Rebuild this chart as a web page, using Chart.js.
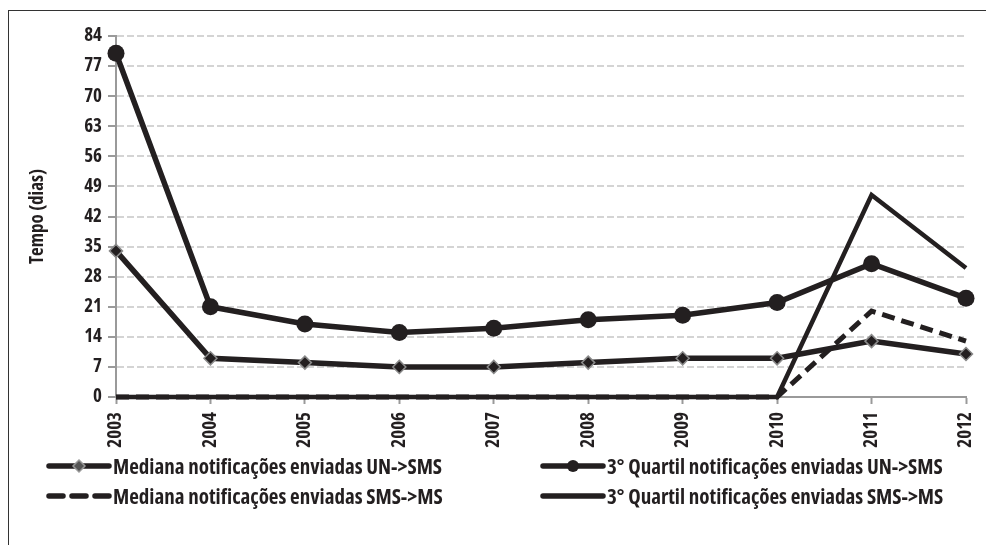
<!DOCTYPE html>
<html>
<head>
<meta charset="utf-8">
<script src="https://cdn.jsdelivr.net/npm/chart.js@4/dist/chart.umd.min.js"></script>
<style>
  body { margin: 0; background: #fff; }
  #wrap { position: relative; width: 986px; height: 545px; overflow: hidden; }
  #frame { position: absolute; left: 8px; top: 10px; width: 990px; height: 560px;
           border-top: 1.5px solid #333; border-left: 1.5px solid #333; }
  canvas { position: absolute; left: 0; top: 0; }
  .leg { position: absolute; height: 24px; display: flex; align-items: center;
         font-family: 'Open Sans', sans-serif; font-stretch: condensed;
         font-weight: bold; font-size: 21px; color: #231f20; white-space: nowrap; }
  .leg svg { margin-right: 1px; }
</style>
</head>
<body>
<div id="wrap">
  <div id="frame"></div>
  <canvas id="grafico" width="986" height="545"></canvas>
</div>
<script>
// Dados
var anos = ['2003', '2004', '2005', '2006', '2007', '2008', '2009', '2010', '2011', '2012']
var medianaUnSms = [34, 9, 8, 7, 7, 8, 9, 9, 13, 10]
var quartilUnSms = [80, 21, 17, 15, 16, 18, 19, 22, 31, 23]
var medianaSmsMs = [0, 0, 0, 0, 0, 0, 0, 0, 20, 13]
var quartilSmsMs = [0, 0, 0, 0, 0, 0, 0, 0, 47, 30]
var nomes = [
  'Mediana notificações enviadas UN->SMS',
  '3° Quartil notificações enviadas UN->SMS',
  'Mediana notificações enviadas SMS->MS',
  '3° Quartil notificações enviadas SMS->MS'
]
var eixoY = { min: 0, max: 84, passo: 7 }

var corLinha = '#231f20'
// "condensed" vai junto do peso para o canvas usar a largura estreita da Open Sans
var fonte = "'Open Sans', sans-serif"
var pesoFonte = 'condensed bold'

var ctx = document.getElementById('grafico')

new Chart(ctx, {
  type: 'line',
  data: {
    labels: anos,
    datasets: [{
      label: nomes[0],
      data: medianaUnSms,
      borderColor: corLinha,
      borderWidth: 5.5,
      pointStyle: 'rectRot',
      pointRadius: 6.5,
      pointBackgroundColor: corLinha,
      pointBorderColor: '#8a8a8a',
      pointBorderWidth: 1.5,
      clip: false
    }, {
      label: nomes[1],
      data: quartilUnSms,
      borderColor: corLinha,
      borderWidth: 5.5,
      pointStyle: 'circle',
      pointRadius: 8.5,
      pointBackgroundColor: corLinha,
      pointBorderColor: corLinha,
      pointBorderWidth: 0,
      clip: false
    }, {
      label: nomes[2],
      data: medianaSmsMs,
      borderColor: corLinha,
      borderWidth: 5,
      borderDash: [13, 7],
      pointRadius: 0,
      clip: false
    }, {
      label: nomes[3],
      data: quartilSmsMs,
      borderColor: corLinha,
      borderWidth: 4.5,
      pointRadius: 0,
      clip: false
    }]
  },
  options: {
    responsive: false,
    animation: false,
    layout: { padding: { left: 0, right: 20, top: 36, bottom: 88 } },
    plugins: {
      legend: { display: false },
      tooltip: { enabled: false }
    },
    scales: {
      x: {
        grid: { drawOnChartArea: false, drawTicks: true, tickLength: 7, tickColor: '#9a9a9a', tickWidth: 2 },
        border: { color: '#9a9a9a', width: 2 },
        ticks: {
          color: corLinha,
          font: { family: fonte, weight: pesoFonte, size: 19 },
          minRotation: 90, maxRotation: 90,
          padding: 8
        },
        // altura fixa e sem folga lateral, para 2003 e 2012 ficarem nas bordas
        afterFit: function (scale) {
          scale.height = 60
          scale.paddingLeft = 0
          scale.paddingRight = 0
        }
      },
      y: {
        min: eixoY.min,
        max: eixoY.max,
        grid: { color: '#d4d4d4', lineWidth: 2, tickLength: 8, tickColor: '#9a9a9a', tickWidth: 2 },
        border: { color: '#9a9a9a', width: 2, dash: [7, 3] },
        ticks: {
          stepSize: eixoY.passo,
          color: corLinha,
          font: { family: fonte, weight: pesoFonte, size: 19 },
          padding: 6
        },
        title: {
          display: true,
          text: 'Tempo (dias)',
          color: corLinha,
          font: { family: fonte, weight: pesoFonte, size: 19 },
          padding: { top: 26, bottom: 0 }
        },
        afterFit: function (scale) { scale.width = 116 }
      }
    }
  }
})

// Legenda em duas colunas
function amostra(tipo) {
  var s = '<svg width="66" height="20" viewBox="0 0 66 20">'
  if (tipo == 'tracejada') {
    s += '<line x1="3" y1="10" x2="63" y2="10" stroke="' + corLinha + '" stroke-width="5.5" stroke-linecap="round" stroke-dasharray="14 9"/>'
  } else {
    s += '<line x1="3" y1="10" x2="63" y2="10" stroke="' + corLinha + '" stroke-width="5.5" stroke-linecap="round"/>'
  }
  if (tipo == 'losango') {
    s += '<polygon points="33,4 39,10 33,16 27,10" fill="#555" stroke="#999" stroke-width="1.5"/>'
  }
  if (tipo == 'circulo') {
    s += '<circle cx="33" cy="10" r="6" fill="' + corLinha + '"/>'
  }
  return s + '</svg>'
}

var tipos = ['losango', 'circulo', 'tracejada', 'solida']
var posicoes = [[46, 454], [540, 454], [46, 484], [540, 484]]
var wrap = document.getElementById('wrap')
nomes.forEach(function (nome, i) {
  var div = document.createElement('div')
  div.className = 'leg'
  div.style.left = posicoes[i][0] + 'px'
  div.style.top = posicoes[i][1] + 'px'
  div.innerHTML = amostra(tipos[i])
  var span = document.createElement('span')
  span.textContent = nome
  div.appendChild(span)
  wrap.appendChild(div)
})
</script>
</body>
</html>
